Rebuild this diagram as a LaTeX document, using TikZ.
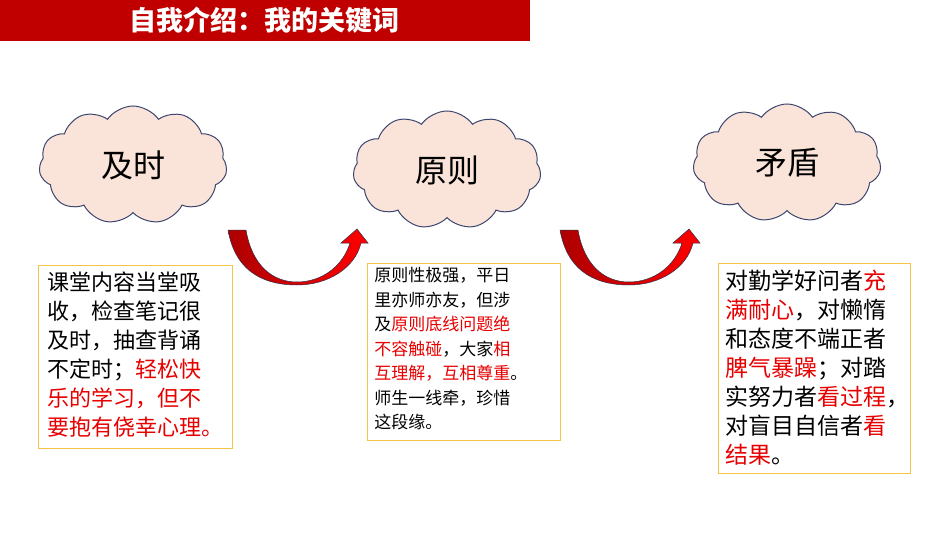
\documentclass[tikz,border=0pt]{standalone}
\usepackage{fontspec}
\setmainfont{Noto Sans CJK SC}
\usetikzlibrary{shapes.symbols}
\definecolor{barred}{RGB}{192,0,0}
\definecolor{cloudfill}{RGB}{250,228,218}
\definecolor{cloudline}{RGB}{60,70,110}
\definecolor{boxline}{RGB}{245,195,70}
\definecolor{hl}{RGB}{230,0,0}
\tikzset{every picture/.style={line width=0.75pt}}
\tikzset{
  kword/.style={cloud, cloud puffs=11, cloud puff arc=110, aspect=1.6, draw=cloudline, fill=cloudfill, line width=1pt, minimum width=188pt, minimum height=118pt, font=\fontsize{32}{36}\selectfont},
  bend arrow/.style={draw=cloudline!70!black, line width=0.5pt, left color=barred!90!black, right color=red}
}
\newcommand{\hl}[1]{\textcolor{hl}{#1}}
\begin{document}
\begin{tikzpicture}[x=1pt,y=1pt,yscale=-1]
        \useasboundingbox (0,0) rectangle (950,535);

        %Header
        \fill[barred] (0,0) rectangle (530,41);
        \node (title) at (264,20) [text=white, font=\fontsize{27}{30}\selectfont\bfseries] {自我介绍：我的关键词};

        % Clouds
        \node[kword] (jishi) at (133,165) {及时};
        \node[kword] (yuanze) at (447,170) {原则};
        \node[kword] (maodun) at (787,163) {矛盾};

        % Arrows
        \draw[bend arrow] (228,230) .. controls (236,275) and (268,285) .. (297,285) .. controls (328,285) and (355,268) .. (361,243) -- (368,243) -- (357,229) -- (341,243) -- (350,243) .. controls (343,266) and (322,282) .. (297,282) .. controls (272,282) and (252,265) .. (246,230) -- cycle;
        \draw[bend arrow] (560,230) .. controls (568,275) and (600,285) .. (629,285) .. controls (660,285) and (687,268) .. (693,243) -- (700,243) -- (689,229) -- (673,243) -- (682,243) .. controls (675,266) and (654,282) .. (629,282) .. controls (604,282) and (584,265) .. (578,230) -- cycle;

        % Notes
        \draw[boxline, line width=1pt] (38,265) rectangle (232,448);
        \node[anchor=north west, align=left, inner sep=0pt, font=\fontsize{22}{29}\selectfont] (jishitext) at (47,271) {课堂内容当堂吸\\收，检查笔记很\\及时，抽查背诵\\不定时；\hl{轻松快}\\\hl{乐的学习，但不}\\\hl{要抱有侥幸心理。}};

        \draw[boxline, line width=1pt] (367,263) rectangle (560,440);
        \node[anchor=north west, align=left, inner sep=0pt, font=\fontsize{17}{24.5}\selectfont] (yuanzetext) at (374,267) {原则性极强，平日\\里亦师亦友，但涉\\及\hl{原则底线问题绝}\\\hl{不容触碰}，大家\hl{相}\\\hl{互理解，互相尊重}。\\师生一线牵，珍惜\\这段缘。};

        \draw[boxline, line width=1pt] (718,263) rectangle (910,473);
        \node[anchor=north west, align=left, inner sep=0pt, font=\fontsize{23}{29}\selectfont] (maoduntext) at (725,270) {对勤学好问者\hl{充}\\\hl{满耐心}，对懒惰\\和态度不端正者\\\hl{脾气暴躁}；对踏\\实努力者\hl{看过程}，\\对盲目自信者\hl{看}\\\hl{结果}。};
\end{tikzpicture}
\end{document}
